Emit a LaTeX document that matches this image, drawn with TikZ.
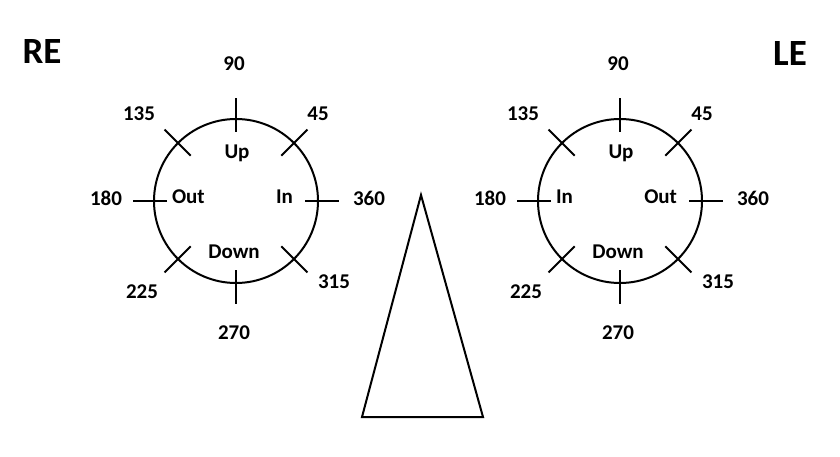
\documentclass[tikz,border=0pt]{standalone}
\usepackage{fontspec}
\setmainfont{Carlito}
\begin{document}
\begin{tikzpicture}
  [x=1pt,y=1pt,line width=2pt,
   every node/.style={inner sep=0pt,font=\fontsize{21}{25}\selectfont\bfseries},
   eyelabel/.style={font=\fontsize{37}{40}\selectfont\bfseries}]
  \useasboundingbox (0,0) rectangle (840,456);

  \node[eyelabel] (re) at (42,404) {RE};
  \node[eyelabel] (le) at (790,402) {LE};

  % one chart per eye
  \foreach \e/\x/\w/\v in {r/236/Out/In, l/620/In/Out}{
    \begin{scope}[shift={(\x,255)}]
      \draw (0,0) circle (82);
      \foreach \a in {0,90,180,270}
        \draw (\a:69) -- (\a:103);
      \foreach \a in {45,135,225,315}
        \draw (\a:64) -- (\a:101);
      \node (\e90)  at (-2,137)  {90};
      \node (\e135) at (-97,87)  {135};
      \node (\e45)  at (82,87)   {45};
      \node (\e180) at (-130,3)  {180};
      \node (\e360) at (133,3)   {360};
      \node (\e225) at (-94,-91) {225};
      \node (\e315) at (98,-81)  {315};
      \node (\e270) at (-2,-132) {270};
      \node (\e up)   at (1,48)   {Up};
      \node (\e down) at (-2,-51) {Down};
      \node[anchor=west] (\e w) at (-65,4) {\w};
      \node[anchor=east] (\e e) at (58,4)  {\v};
    \end{scope}
  }

  \draw (421,261) -- (362,39) -- (483,39) -- cycle;
\end{tikzpicture}
\end{document}
